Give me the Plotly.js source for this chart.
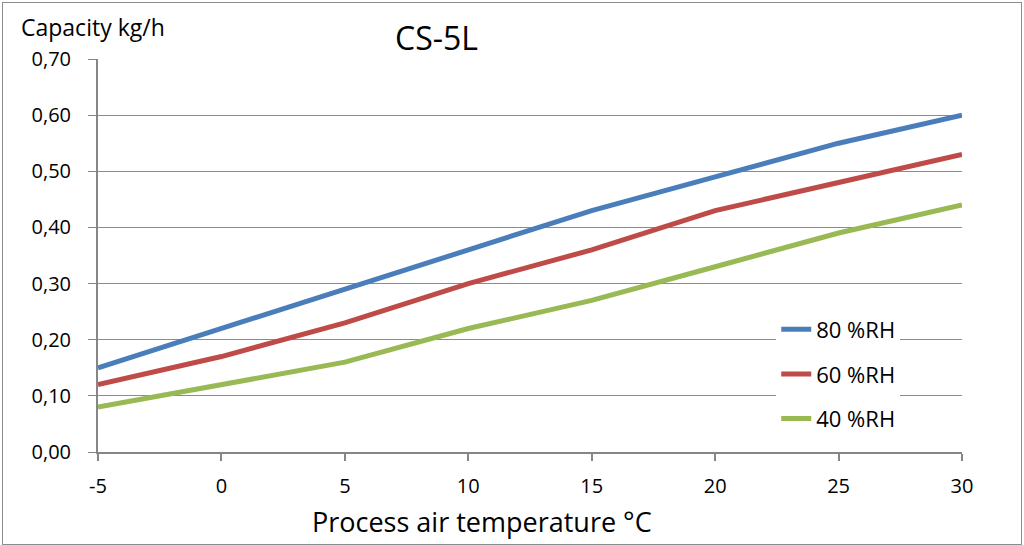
<!DOCTYPE html>
<html>
<head>
<meta charset="utf-8">
<script src="https://cdn.plot.ly/plotly-3.0.1.min.js"></script>
<style>
  html, body { margin: 0; padding: 0; background: #fff; }
  #chart { width: 1024px; height: 545px; }
  #frame { position: absolute; left: 2px; top: 2px; width: 1018px; height: 541px; border: 1px solid #8c8c8c; pointer-events: none; }
</style>
</head>
<body>
<div id="chart"></div>
<div id="frame"></div>
<script>
const temps = [-5, 0, 5, 10, 15, 20, 25, 30];
const tempLabels = ['-5', '0', '5', '10', '15', '20', '25', '30'];
const rh80 = [0.15, 0.22, 0.29, 0.36, 0.43, 0.49, 0.55, 0.60];
const rh60 = [0.12, 0.17, 0.23, 0.30, 0.36, 0.43, 0.48, 0.53];
const rh40 = [0.08, 0.12, 0.16, 0.22, 0.27, 0.33, 0.39, 0.44];
const seriesNames = ['80 %RH', '60 %RH', '40 %RH'];
const seriesColors = ['#4a7ebb', '#be4b48', '#98b954'];

const font = 'Open Sans, Liberation Sans, sans-serif';

const traces = [rh80, rh60, rh40].map((ys, i) => ({
    x: temps,
    y: ys,
    mode: 'lines',
    type: 'scatter',
    name: seriesNames[i],
    legendgroup: 'g' + i,
    line: { color: seriesColors[i], width: 5 }
}));

const layout = {
    width: 1024,
    height: 545,
    margin: { l: 98, r: 62, t: 59, b: 93 },
    paper_bgcolor: '#fff',
    plot_bgcolor: '#fff',
    separators: ', ',
    font: { family: font, size: 20, color: '#000' },
    showlegend: true,
    legend: {
        x: 0.785, y: 0.365, xanchor: 'left', yanchor: 'top',
        bgcolor: '#fff',
        font: { family: font, size: 22, color: '#000' },
        traceorder: 'grouped',
        tracegroupgap: 13
    },
    xaxis: {
        range: [-5, 30],
        tickvals: temps,
        ticktext: tempLabels,
        showgrid: false,
        zeroline: false,
        showline: true,
        linecolor: '#868686',
        linewidth: 2,
        ticks: 'outside',
        ticklen: 7,
        tickcolor: '#868686',
        tickwidth: 2,
        ticklabelstandoff: 8,
        tickfont: { size: 20 }
    },
    yaxis: {
        range: [0, 0.7],
        dtick: 0.1,
        tickformat: '.2f',
        showgrid: true,
        gridcolor: '#8c8c8c',
        gridwidth: 1,
        zeroline: false,
        showline: true,
        linecolor: '#868686',
        linewidth: 2,
        ticks: 'outside',
        ticklen: 8,
        tickcolor: '#868686',
        tickwidth: 1,
        ticklabelstandoff: 13,
        tickfont: { size: 20 }
    },
    annotations: [
        { text: 'CS-5L', xref: 'paper', yref: 'paper', x: 0.392, y: 0.995, xanchor: 'center', yanchor: 'bottom', showarrow: false, font: { size: 32 } },
        { text: 'Capacity kg/h', xref: 'paper', yref: 'paper', x: -0.092, y: 1.035, xanchor: 'left', yanchor: 'bottom', showarrow: false, font: { size: 23 } },
        { text: 'Process air temperature °C', xref: 'paper', yref: 'paper', x: 0.445, y: -0.125, xanchor: 'center', yanchor: 'top', showarrow: false, font: { size: 27 } }
    ]
};

Plotly.newPlot('chart', traces, layout, { displayModeBar: false });
</script>
</body>
</html>
